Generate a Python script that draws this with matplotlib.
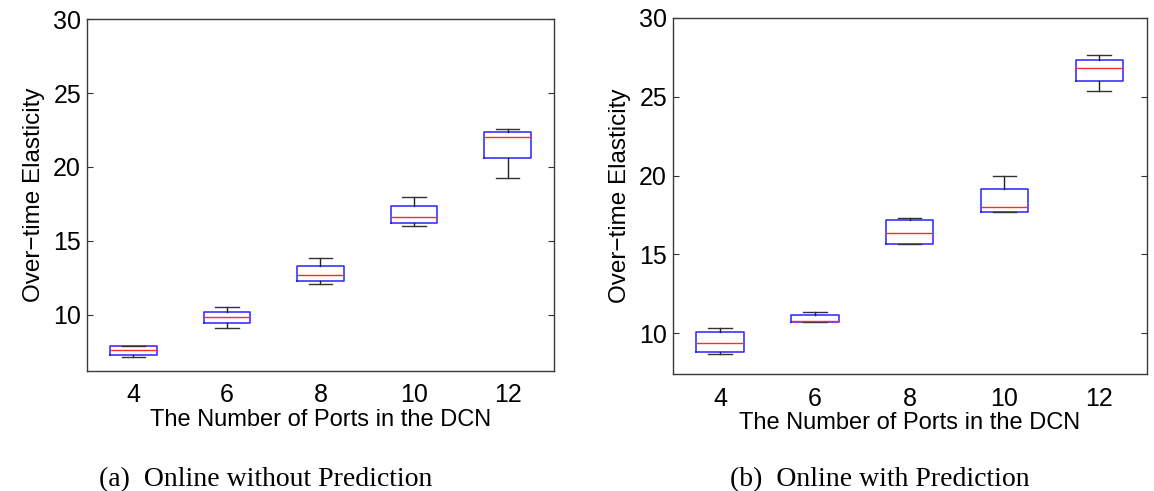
"""Over-time elasticity vs. number of DCN ports — two box-plot panels (MATLAB look)."""
import matplotlib.pyplot as plt

ports = [4, 6, 8, 10, 12]

# (a) online without prediction: whisker low, q1, median, q3, whisker high
a_lo  = [7.10, 9.10, 12.08, 15.97, 19.27]
a_q1  = [7.25, 9.42, 12.27, 16.20, 20.63]
a_med = [7.61, 9.82, 12.69, 16.61, 22.03]
a_q3  = [7.86, 10.20, 13.32, 17.33, 22.39]
a_hi  = [7.86, 10.50, 13.83, 17.94, 22.55]

# (b) online with prediction
b_lo  = [8.66, 10.74, 15.68, 17.67, 25.35]
b_q1  = [8.81, 10.74, 15.68, 17.71, 26.02]
b_med = [9.38, 10.80, 16.34, 18.03, 26.80]
b_q3  = [10.06, 11.14, 17.18, 19.13, 27.33]
b_hi  = [10.35, 11.35, 17.33, 20.00, 27.67]

plt.rcParams["font.family"] = ["Liberation Sans", "DejaVu Sans"]

fig = plt.figure(figsize=(11.54, 4.91), dpi=100)
ax_a = fig.add_axes([0.0751, 0.245, 0.4052, 0.7157])
ax_b = fig.add_axes([0.5829, 0.2377, 0.4107, 0.7258])


def draw(ax, lo, q1, med, q3, hi, ylim):
    stats = [dict(whislo=l, q1=a, med=m, q3=b, whishi=h, fliers=[])
             for l, a, m, b, h in zip(lo, q1, med, q3, hi)]
    ax.bxp(stats, positions=ports, widths=1.0, capwidths=0.5,
           showfliers=False, manage_ticks=False,
           boxprops=dict(color="#2a22ff", lw=1.1),
           medianprops=dict(color="#ff2a2a", lw=1.0),
           whiskerprops=dict(color="#222222", lw=1.0),
           capprops=dict(color="#333333", lw=1.0))
    ax.set_xlim(3, 13)
    ax.set_ylim(*ylim)
    ax.set_xticks(ports)
    ax.set_yticks([10, 15, 20, 25, 30])
    ax.tick_params(axis="x", length=0, labelsize=18, pad=9)
    ax.tick_params(axis="y", direction="in", length=4, labelsize=18,
                   right=True, color="#333333", pad=4)
    for sp in ax.spines.values():
        sp.set_color("#3a3a3a")
        sp.set_linewidth(1.0)
    ax.set_xlabel("The Number of Ports in the DCN", fontsize=17, labelpad=1)
    ax.set_ylabel("Over\u2212time Elasticity", fontsize=17.5, labelpad=6)


draw(ax_a, a_lo, a_q1, a_med, a_q3, a_hi, (6.2, 30))
draw(ax_b, b_lo, b_q1, b_med, b_q3, b_hi, (7.4, 30))

cap_font = ["Liberation Serif", "DejaVu Serif"]
fig.text(0.2305, 0.010, "(a)  Online without Prediction", ha="center",
         va="baseline", fontsize=20, family=cap_font)
fig.text(0.7625, 0.010, "(b)  Online with Prediction", ha="center",
         va="baseline", fontsize=20, family=cap_font)

fig.savefig("out.png", dpi=100)
